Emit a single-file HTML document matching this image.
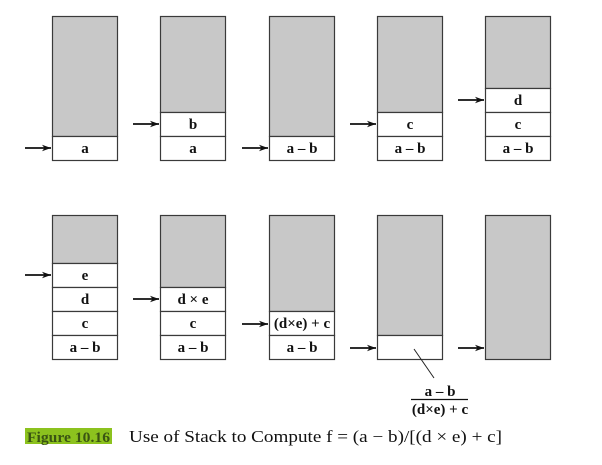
<!DOCTYPE html>
<html>
<head>
<meta charset="utf-8">
<style>
  html, body { margin:0; padding:0; background:#fff; }
  svg { display:block; }
  .g { fill:#c8c8c8; stroke:#3a3a3a; stroke-width:1.2; }
  .w { fill:#fff; stroke:#3a3a3a; stroke-width:1.2; }
  .t { font-family:"Liberation Serif", serif; font-weight:bold; font-size:15px; fill:#111; text-anchor:middle; }
  .ar { stroke:#111; stroke-width:1.8; }
</style>
</head>
<body>
<svg width="602" height="465" viewBox="0 0 602 465" xmlns="http://www.w3.org/2000/svg">
  <defs>
    <marker id="ah" markerWidth="10" markerHeight="8" refX="9" refY="4" orient="auto" markerUnits="userSpaceOnUse">
      <path d="M0,0.8 L9,4 L0,7.2 L2.5,4 Z" fill="#111"/>
    </marker>
  </defs>

  <!-- Row 1 -->
  <rect class="g" x="52.5" y="16.5" width="65" height="120"/>
  <rect class="w" x="52.5" y="136.5" width="65" height="24"/>
  <text class="t" x="85" y="153">a</text>
  <line class="ar" x1="25" y1="148" x2="51" y2="148" marker-end="url(#ah)"/>

  <rect class="g" x="160.5" y="16.5" width="65" height="96"/>
  <rect class="w" x="160.5" y="112.5" width="65" height="24"/>
  <rect class="w" x="160.5" y="136.5" width="65" height="24"/>
  <text class="t" x="193" y="129">b</text>
  <text class="t" x="193" y="153">a</text>
  <line class="ar" x1="133" y1="124" x2="159" y2="124" marker-end="url(#ah)"/>

  <rect class="g" x="269.5" y="16.5" width="65" height="120"/>
  <rect class="w" x="269.5" y="136.5" width="65" height="24"/>
  <text class="t" x="302" y="153">a – b</text>
  <line class="ar" x1="242" y1="148" x2="268" y2="148" marker-end="url(#ah)"/>

  <rect class="g" x="377.5" y="16.5" width="65" height="96"/>
  <rect class="w" x="377.5" y="112.5" width="65" height="24"/>
  <rect class="w" x="377.5" y="136.5" width="65" height="24"/>
  <text class="t" x="410" y="129">c</text>
  <text class="t" x="410" y="153">a – b</text>
  <line class="ar" x1="350" y1="124" x2="376" y2="124" marker-end="url(#ah)"/>

  <rect class="g" x="485.5" y="16.5" width="65" height="72"/>
  <rect class="w" x="485.5" y="88.5" width="65" height="24"/>
  <rect class="w" x="485.5" y="112.5" width="65" height="24"/>
  <rect class="w" x="485.5" y="136.5" width="65" height="24"/>
  <text class="t" x="518" y="105">d</text>
  <text class="t" x="518" y="129">c</text>
  <text class="t" x="518" y="153">a – b</text>
  <line class="ar" x1="458" y1="100" x2="484" y2="100" marker-end="url(#ah)"/>

  <!-- Row 2 -->
  <rect class="g" x="52.5" y="215.5" width="65" height="48"/>
  <rect class="w" x="52.5" y="263.5" width="65" height="24"/>
  <rect class="w" x="52.5" y="287.5" width="65" height="24"/>
  <rect class="w" x="52.5" y="311.5" width="65" height="24"/>
  <rect class="w" x="52.5" y="335.5" width="65" height="24"/>
  <text class="t" x="85" y="280">e</text>
  <text class="t" x="85" y="304">d</text>
  <text class="t" x="85" y="328">c</text>
  <text class="t" x="85" y="352">a – b</text>
  <line class="ar" x1="25" y1="275" x2="51" y2="275" marker-end="url(#ah)"/>

  <rect class="g" x="160.5" y="215.5" width="65" height="72"/>
  <rect class="w" x="160.5" y="287.5" width="65" height="24"/>
  <rect class="w" x="160.5" y="311.5" width="65" height="24"/>
  <rect class="w" x="160.5" y="335.5" width="65" height="24"/>
  <text class="t" x="193" y="304">d × e</text>
  <text class="t" x="193" y="328">c</text>
  <text class="t" x="193" y="352">a – b</text>
  <line class="ar" x1="133" y1="299" x2="159" y2="299" marker-end="url(#ah)"/>

  <rect class="g" x="269.5" y="215.5" width="65" height="96"/>
  <rect class="w" x="269.5" y="311.5" width="65" height="24"/>
  <rect class="w" x="269.5" y="335.5" width="65" height="24"/>
  <text class="t" x="302" y="328">(d×e) + c</text>
  <text class="t" x="302" y="352">a – b</text>
  <line class="ar" x1="242" y1="324" x2="268" y2="324" marker-end="url(#ah)"/>

  <rect class="g" x="377.5" y="215.5" width="65" height="120"/>
  <rect class="w" x="377.5" y="335.5" width="65" height="24"/>
  <line class="ar" x1="350" y1="348" x2="376" y2="348" marker-end="url(#ah)"/>
  <line x1="414" y1="349" x2="434" y2="378" stroke="#222" stroke-width="1"/>
  <text class="t" x="440" y="396">a – b</text>
  <line x1="411" y1="399.5" x2="468" y2="399.5" stroke="#111" stroke-width="1.2"/>
  <text class="t" x="440" y="414">(d×e) + c</text>

  <rect class="g" x="485.5" y="215.5" width="65" height="144"/>
  <line class="ar" x1="458" y1="348" x2="484" y2="348" marker-end="url(#ah)"/>

  <!-- Caption -->
  <rect x="25" y="428" width="87" height="16" fill="#8cc21e"/>
  <text x="27" y="442" font-family="Liberation Serif, serif" font-weight="bold" font-size="15" fill="#3a5512" textLength="83" lengthAdjust="spacingAndGlyphs">Figure 10.16</text>
  <text x="129" y="442" font-family="Liberation Serif, serif" font-size="16.5" fill="#111" textLength="373" lengthAdjust="spacingAndGlyphs">Use of Stack to Compute f = (a − b)/[(d × e) + c]</text>
</svg>
</body>
</html>
